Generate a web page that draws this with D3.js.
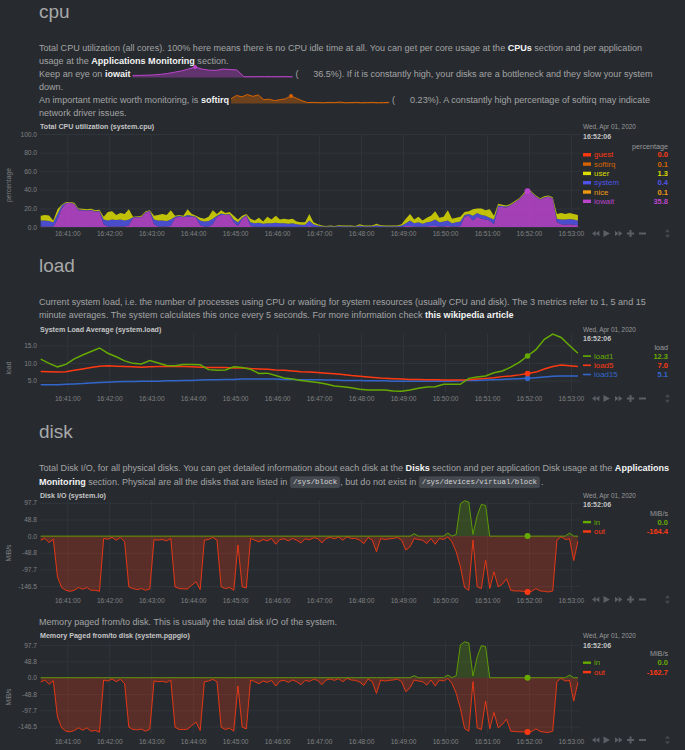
<!DOCTYPE html>
<html>
<head>
<meta charset="utf-8">
<script src="https://cdn.jsdelivr.net/npm/d3@7"></script>
<style>
  html, body { margin: 0; padding: 0; background: #272b30; }
  svg { display: block; font-family: "Liberation Sans", Arial, Helvetica, sans-serif; }
  text { white-space: pre; }
</style>
</head>
<body>
<div id="dash"></div>
<script>
// ---- data ----
// cpu: one sample every 6 s starting 16:40:22
const cpuIowait = [0.5,0.5,0.5,0.5,8,20,25.5,26,24.5,18,
  18,17.5,18,16.5,17,3,0.5,0.5,0.5,0.5,
  0.5,2,10,10.5,10.5,15.5,17,3,0.5,0.5,
  0.5,1,10,11,10.5,11,11,10.5,2,0.5,
  0.5,3,11,13,13,13.5,5,1,9,12.5,
  1,0.3,0.3,0.3,0.3,0.3,0.3,0.3,0.3,0.3,
  0.3,0.3,0.3,0.3,1,0.3,0.2,0.2,0.1,0.1,
  0.1,0.2,0.1,0.1,0.1,0.1,0.2,0.1,0.1,0.1,
  0.2,0.1,0.1,0.1,0.1,0.1,0.2,1,1,0.5,
  0.5,0.3,0.5,1,1,0.5,0.5,1,0.5,0.5,
  1,11,12,7,11,9,8,7,3,21.5,
  21.5,21,23.5,26.5,29.5,34.5,38.5,36.5,32.5,29.5,
  31.5,32.5,30.5,5,3,2.5,3,2.5,2];
const cpuSystem = [6.5,6.5,6,4.5,6,3,0.5,0.3,0.5,1,
  0.5,0.5,0.5,0.5,0.5,5,6.5,7.5,7,7.5,
  6.5,6,0.5,0.5,0.5,0.5,0.5,5,6.5,6.5,
  6,7,1,1,0.5,2,1,0.5,5,5.5,
  6,6,1,1.5,0.5,0.5,3,4,1,0.5,
  4,3.7,4.2,3.2,3.7,3.7,4.2,3.7,3.7,3.2,
  3.7,2.7,2.2,2.2,6,2.7,1.3,0.6,0.4,0.7,
  0.4,0.8,0.7,0.7,0.6,0.4,1.3,0.7,0.6,0.7,
  1.8,0.9,0.7,0.6,0.7,0.7,1.3,3,6,3.5,
  4.5,3.2,4.5,5,7,4.5,5.5,6,3.5,4.5,
  5,2,2,5,4,4,4,3,5,1.5,
  1,1,0.5,0.5,0.5,0.5,0.5,0.5,0.5,0.5,
  0.5,0.5,0.5,4,5,5.5,5.5,5.5,5];
const cpuUser = [5,6,6,2,5,1,1,0.7,1,1,
  1,1,1,1,1,3,9,9,5.5,7,
  7,11,0.5,0.5,1,1,0.5,4,6,7,
  6.5,10,1,1,1,6,2,1,3,3,
  4.5,9,2,3.5,1.5,2,4,3,2,1,
  4,3,5.5,2.5,7,4,7.5,4,5,4.5,
  5,3,2.5,2.5,7,2,1.5,0.7,0.5,0.7,
  0.5,1,0.7,0.7,0.8,0.5,1.5,0.7,0.8,0.7,
  1.5,1,0.7,0.8,0.7,0.7,1.5,5,7,4,
  6,3.5,5,6,9,5,5,11,5,5,
  5,3,3,7,5,7,6,9,4,2,
  1.5,1,1,1,1,1,1.5,1,1,1,
  1,1,1,5,7,6,6.5,6,6];
const cpuDims = ['guest', 'softirq', 'user', 'system', 'nice', 'iowait'];
const cpuDimValues = ['0.0', '0.1', '1.3', '0.4', '0.1', '35.8'];
const cpuDimColors = ['#FE3912', '#D66300', '#DDDD00', '#5054e6', '#EE9911', '#BB44CC'];
const cpuYTicks = [0, 20, 40, 60, 80, 100];

// inline sparklines in the cpu description (relative 0-100)
const iowaitSpark = [20,20,22,25,30,38,50,62,80,100,80,70,68,80,76,72,8,7,8,8,7,8,8,7];
const softirqSpark = [50,85,70,95,75,90,40,45,30,40,50,80,55,30,10,12,10,8,12,10,15,8,10,12,8,10,12,8,10,12];

// load: one sample every 12 s starting 16:40:22
const load1 = [11.1,9.9,8.9,9.6,11.2,12.3,13.3,14.3,12.8,11.8,
  10.6,9.9,9.7,10.7,10.0,9.3,9.2,9.6,9.6,9.5,
  8.1,7.9,8.0,8.9,8.7,8.2,7.0,7.1,6.4,5.7,
  5.4,5.0,4.7,4.4,4.0,3.4,3.2,2.9,2.5,2.3,
  2.3,2.3,2.0,1.9,2.3,2.8,3.1,3.2,3.9,3.9,
  3.9,5.6,6.0,6.3,7.2,7.7,8.8,10.2,12.0,13.8,
  16.8,18.3,17.3,15.0,12.8];
const load5 = [7.6,7.5,7.4,7.5,7.9,8.3,8.7,9.1,9.2,9.1,
  9.0,8.9,8.8,8.9,9.0,9.0,9.0,9.0,8.9,8.8,
  8.7,8.7,8.7,8.6,8.6,8.4,8.3,8.2,8.0,7.9,
  7.7,7.5,7.4,7.3,7.1,6.9,6.7,6.4,6.2,6.0,
  5.8,5.6,5.5,5.4,5.3,5.3,5.2,5.2,5.1,5.1,
  5.1,5.2,5.4,5.6,5.8,6.1,6.3,6.6,7.0,7.4,
  8.3,9.0,9.4,9.2,9.0];
const load15 = [3.8,3.8,3.8,3.9,4.0,4.1,4.3,4.4,4.5,4.6,
  4.7,4.7,4.8,4.8,4.8,4.9,4.9,5.0,5.0,5.1,
  5.2,5.2,5.3,5.3,5.4,5.4,5.4,5.4,5.4,5.3,
  5.3,5.2,5.2,5.2,5.1,5.1,5.0,5.0,5.0,4.9,
  4.9,4.9,4.8,4.8,4.8,4.8,4.8,4.8,4.8,4.8,
  4.9,5.0,5.0,5.1,5.2,5.3,5.4,5.5,5.6,5.8,
  6.0,6.2,6.3,6.3,6.3];
const loadDims = ['load1', 'load5', 'load15'];
const loadDimValues = ['12.3', '7.0', '5.1'];
const loadDimColors = ['#66AA00', '#FE3912', '#3366CC'];
const loadYTicks = [5, 10, 15];

// disk io (MiB/s), 6 s samples
const diskIn = [0,0,0,0,0,0,0,0,0,0,
  0,0,0,0,0,0,0,0,0,0,
  0,0,0,0,0,0,0,0,0,0,
  0,0,0,0,0,0,0,0,0,0,
  0,0,0,0,0,0,0,0,0,0,
  0,0,0,0,0,0,0,0,0,0,
  0,0,0,0,0,0,0,0,0,0,
  0,0,0,0,0,0,0,0,0,0,
  0,0,0,0,0,0,0,0,0,7,
  0,0,0,0,0,0,0,9,0,5,
  95,104,100,5,60,93,90,0,0,0,
  0,0,0,0,0,0,0,0,0,0,
  0,0,0,0,0,0,9,0,0];
const diskOut = [-12,-7,-19,-9,-120,-151,-159,-162,-159,-151,
  -156,-151,-159,-159,-162,-7,-9,-4,-12,-4,
  -17,-149,-154,-157,-154,-159,-155,-10,-12,-10,
  -14,-7,-149,-154,-155,-155,-144,-134,-157,-12,
  -10,-4,-12,-149,-154,-151,-159,-26,-149,-152,
  -7,-12,-17,-10,-14,-7,-24,-10,-8,-14,
  -7,-12,-20,-8,-11,-5,-7,-20,-7,-4,
  -8,-3,-12,-2,-7,-7,-12,-22,-4,-12,
  -46,-7,-10,-8,-7,-4,-12,-41,-31,-7,
  -10,-12,-22,-7,-24,-7,-10,-2,-17,-46,
  -90,-151,-159,-12,-149,-154,-71,-154,-105,-149,
  -141,-125,-159,-161,-161,-162,-164.4,-162,-154,-161,
  -162,-164,-161,-12,-2,-10,-8,-72,-15];
const diskDimValues = ['0.0', '-164.4'];

// memory paged from/to disk (MiB/s), 6 s samples
const pgpgIn = [0,0,0,0,0,0,0,0,0,0,
  0,0,0,0,0,0,0,0,0,0,
  0,0,0,0,0,0,0,0,0,0,
  0,0,0,0,0,0,0,0,0,0,
  0,0,0,0,0,0,0,0,0,0,
  0,0,0,0,0,0,0,0,0,0,
  0,0,0,0,0,0,0,0,0,0,
  0,0,0,0,0,0,0,0,0,0,
  0,0,0,0,0,0,0,0,0,6,
  0,0,0,0,0,0,0,8,0,6,
  98,107,104,5,62,96,93,0,0,0,
  0,0,0,0,0,0,0,0,0,0,
  0,0,0,0,0,0,8,0,0];
const pgpgOut = [-13,-7,-20,-9,-118,-150,-160,-162,-158,-150,
  -157,-150,-160,-158,-163,-7,-10,-4,-12,-5,
  -18,-148,-155,-156,-154,-160,-154,-10,-12,-11,
  -14,-7,-148,-155,-155,-154,-143,-133,-158,-12,
  -10,-5,-12,-148,-155,-151,-160,-25,-148,-153,
  -7,-12,-18,-10,-14,-8,-25,-10,-8,-14,
  -7,-12,-21,-8,-11,-5,-8,-21,-7,-4,
  -8,-3,-12,-2,-7,-8,-13,-23,-4,-12,
  -47,-7,-10,-8,-7,-4,-12,-42,-30,-7,
  -10,-12,-22,-7,-25,-7,-10,-2,-17,-47,
  -92,-152,-160,-12,-150,-155,-70,-153,-104,-150,
  -140,-124,-160,-161,-162,-162,-162.7,-161,-153,-161,
  -163,-164,-160,-12,-2,-10,-8,-70,-14];
const pgpgDimValues = ['0.0', '-162.7'];
const ioDims = ['in', 'out'];
const ioDimColors = ['#66AA00', '#FE3912'];
const ioYTicks = [-146.5, -97.7, -48.8, 0, 48.8, 97.7];

// ---- page ----
const W = 685, H = 750;
const TEXT = '#a3a3a3', STRONG = '#f2f2f2', TICK = '#808080', GRID = '#30353b';
const MONO = '"Liberation Mono", "DejaVu Sans Mono", monospace';
const PARA_SIZE = 9.05;

const svg = d3.select('#dash').append('svg').attr('width', W).attr('height', H);
svg.append('rect').attr('width', W).attr('height', H).attr('fill', '#272b30');

const cpuStart = new Date(2020, 3, 1, 16, 40, 22);
const cpuTimes = cpuIowait.map((d, i) => d3.timeSecond.offset(cpuStart, i * 6));
const loadTimes = load1.map((d, i) => d3.timeSecond.offset(cpuStart, i * 12));
const cursorIdx = 116;
const loadCursorIdx = 58;

let x = d3.scaleTime()
  .domain([new Date(2020, 3, 1, 16, 40, 21), new Date(2020, 3, 1, 16, 53, 13)])
  .range([40, 580]);
let minuteTicks = d3.timeMinute.range(new Date(2020, 3, 1, 16, 41), new Date(2020, 3, 1, 16, 53, 1));

function heading(label, y) {
  svg.append('text').attr('x', 39).attr('y', y).text(label)
    .attr('font-size', 19).attr('fill', '#a8a8a8');
}

// paragraph line; returns the x where the text ends
function para(y, parts, x0) {
  x0 = x0 || 39;
  let t = svg.append('text').attr('x', x0).attr('y', y)
    .attr('font-size', PARA_SIZE).attr('fill', TEXT);
  parts.forEach((p) => {
    let s = t.append('tspan').text(typeof p === 'string' ? p : p.b);
    if (typeof p !== 'string') s.attr('fill', STRONG).attr('font-weight', 'bold');
  });
  return x0 + t.node().getComputedTextLength();
}

// inline code box; returns the x where the box ends
function codeSpan(label, x0, y) {
  let bx = svg.append('rect').attr('x', x0).attr('y', y - 7.6).attr('height', 11)
    .attr('rx', 2).attr('fill', '#44494f').attr('stroke', '#50555b').attr('stroke-width', 0.5);
  let t = svg.append('text').attr('x', x0 + 2.5).attr('y', y).text(label)
    .attr('font-family', MONO).attr('font-size', 7.4).attr('fill', '#d6d6d6');
  let w = t.node().getComputedTextLength() + 5;
  bx.attr('width', w);
  return x0 + w;
}

function sparkline(vals, x0, x1, yTop, yBot, color, dotIdx) {
  let sx = d3.scaleLinear().domain([0, vals.length - 1]).range([x0, x1]);
  let sy = d3.scaleLinear().domain([0, 100]).range([yBot, yTop]);
  svg.append('path').datum(vals)
    .attr('d', d3.area().x((d, i) => sx(i)).y0(yBot).y1((d) => sy(d)))
    .attr('fill', color).attr('fill-opacity', 0.4);
  svg.append('path').datum(vals)
    .attr('d', d3.line().x((d, i) => sx(i)).y((d) => sy(d)))
    .attr('fill', 'none').attr('stroke', color).attr('stroke-width', 1);
  svg.append('circle').attr('cx', sx(dotIdx)).attr('cy', sy(vals[dotIdx])).attr('r', 2).attr('fill', color);
}

function styleAxis(a) {
  a.select('.domain').remove();
  a.selectAll('line').attr('stroke', GRID).attr('stroke-width', 1);
  a.selectAll('text').attr('fill', TICK).attr('font-size', 6.6)
    .attr('font-family', '"Liberation Sans", Arial, sans-serif');
}

// plot frame: grid, tick labels, title, unit label
function frame(c) {
  let y = d3.scaleLinear().domain(c.yDomain).range([c.bottom, c.top]);
  svg.append('g').attr('transform', 'translate(40,0)')
    .call(d3.axisLeft(y).tickValues(c.yTicks).tickFormat((d) => d.toFixed(1)).tickSize(-540).tickPadding(3))
    .call(styleAxis);
  svg.append('g').attr('transform', `translate(0,${c.bottom})`)
    .call(d3.axisBottom(x).tickValues(minuteTicks).tickFormat(d3.timeFormat('%H:%M:%S'))
      .tickSize(-(c.bottom - c.top)).tickPadding(c.pad || 4.6))
    .call(styleAxis);
  svg.append('text').attr('x', 40).attr('y', c.titleY).text(c.title)
    .attr('font-size', 7.1).attr('font-weight', 'bold').attr('fill', '#c4c4c4');
  svg.append('text').attr('transform', `translate(10.5,${c.labelY}) rotate(-90)`)
    .attr('text-anchor', 'middle').text(c.unit).attr('font-size', 6.8).attr('fill', TICK);
  navIcons(c.bottom + 6.5);
  return y;
}

function legend(c) {
  svg.append('text').attr('x', 583).attr('y', c.dateY).text('Wed, Apr 01, 2020')
    .attr('font-size', 6.4).attr('fill', '#9a9a9a');
  svg.append('text').attr('x', 583).attr('y', c.dateY + 9.5).text('16:52:06')
    .attr('font-size', 7).attr('font-weight', 'bold').attr('fill', '#c4c4c4');
  svg.append('text').attr('x', 668).attr('y', c.unitY).attr('text-anchor', 'end').text(c.unit)
    .attr('font-size', 7.2).attr('fill', '#9a9a9a');
  c.names.forEach((name, i) => {
    let yy = c.itemY + i * c.step;
    svg.append('rect').attr('x', 583).attr('y', yy - 2.6 - c.sw / 2).attr('width', 8).attr('height', c.sw)
      .attr('fill', c.colors[i]);
    svg.append('text').attr('x', 594).attr('y', yy).text(name)
      .attr('font-size', 7.9).attr('fill', c.colors[i]);
    svg.append('text').attr('x', 668).attr('y', yy).attr('text-anchor', 'end').text(c.values[i])
      .attr('font-size', 7.5).attr('font-weight', 'bold').attr('fill', c.colors[i]);
  });
}

function navIcons(cy) {
  let g = svg.append('g').attr('fill', '#5b6067');
  let tri = (pts) => g.append('polygon').attr('points', pts.map((p) => p.join(',')).join(' '));
  tri([[592, cy], [595.7, cy - 2.8], [595.7, cy + 2.8]]);
  tri([[595.7, cy], [599.4, cy - 2.8], [599.4, cy + 2.8]]);
  tri([[603.5, cy - 3.6], [603.5, cy + 3.6], [610, cy]]);
  tri([[615, cy - 2.8], [615, cy + 2.8], [618.7, cy]]);
  tri([[618.7, cy - 2.8], [618.7, cy + 2.8], [622.4, cy]]);
  g.append('rect').attr('x', 627).attr('y', cy - 1).attr('width', 7).attr('height', 2);
  g.append('rect').attr('x', 629.5).attr('y', cy - 3.5).attr('width', 2).attr('height', 7);
  g.append('rect').attr('x', 639).attr('y', cy - 1).attr('width', 7).attr('height', 2);
  let r = svg.append('g').attr('fill', '#45494f');
  r.append('polygon').attr('points', `665,${cy - 1.2} 670,${cy - 1.2} 667.5,${cy - 4.6}`);
  r.append('polygon').attr('points', `665,${cy + 1.2} 670,${cy + 1.2} 667.5,${cy + 4.6}`);
}

// ---------- cpu section ----------
heading('cpu', 18.3);
para(50.6, ['Total CPU utilization (all cores). 100% here means there is no CPU idle time at all. You can get per core usage at the ', { b: 'CPUs' }, ' section and per application']);
para(63.8, ['usage at the ', { b: 'Applications Monitoring' }, ' section.']);
let e1 = para(77, ['Keep an eye on ', { b: 'iowait' }]) + 2;
sparkline(iowaitSpark, e1, e1 + 160, 67, 77.5, '#BB44CC', 9);
para(77, ['('], e1 + 163);
para(77, ['36.5%). If it is constantly high, your disks are a bottleneck and they slow your system'], e1 + 180.6);
para(90.2, ['down.']);
let e2 = para(103.4, ['An important metric worth monitoring, is ', { b: 'softirq' }]) + 2;
sparkline(softirqSpark, e2, e2 + 158, 94, 103.5, '#D66300', 11);
para(103.4, ['('], e2 + 161);
para(103.4, ['0.23%). A constantly high percentage of softirq may indicate'], e2 + 179);
para(116.4, ['network driver issues.']);

let yCpu = frame({ top: 134, bottom: 227, yDomain: [0, 100], yTicks: cpuYTicks, title: 'Total CPU utilization (system.cpu)', titleY: 129.2, unit: 'percentage', labelY: 185, pad: 4.3 });

let cpuRows = cpuTimes.map((t, i) => ({ t: t, iowait: cpuIowait[i], system: cpuSystem[i], user: cpuUser[i] }));
let cpuColor = { iowait: '#BB44CC', system: '#5054e6', user: '#DDDD00' };
let cpuStack = d3.stack().keys(['iowait', 'system', 'user'])(cpuRows);
let cpuArea = d3.area().x((d) => x(d.data.t)).y0((d) => yCpu(d[0])).y1((d) => yCpu(d[1]));
svg.append('g').selectAll('path').data(cpuStack).enter().append('path')
  .attr('d', cpuArea).attr('fill', (s) => cpuColor[s.key]).attr('fill-opacity', 0.85);
svg.append('circle').attr('cx', x(cpuTimes[cursorIdx])).attr('cy', yCpu(cpuIowait[cursorIdx]))
  .attr('r', 3).attr('fill', '#BB44CC');

legend({ dateY: 129.3, unitY: 148.5, unit: 'percentage', itemY: 157.4, step: 9.3, sw: 3.4,
  names: cpuDims, values: cpuDimValues, colors: cpuDimColors });

// ---------- load section ----------
heading('load', 272);
para(305, ['Current system load, i.e. the number of processes using CPU or waiting for system resources (usually CPU and disk). The 3 metrics refer to 1, 5 and 15']);
para(318, ['minute averages. The system calculates this once every 5 seconds. For more information check ', { b: 'this wikipedia article' }]);

let yLoad = frame({ top: 334, bottom: 392, yDomain: [1.7, 18.3], yTicks: loadYTicks, title: 'System Load Average (system.load)', titleY: 331.5, unit: 'load', labelY: 368, pad: 4.6 });

let loadSeries = [load15, load5, load1];
let loadSeriesColors = ['#3366CC', '#FE3912', '#66AA00'];
let loadLine = d3.line().x((d, i) => x(loadTimes[i])).y((d) => yLoad(d));
svg.append('g').selectAll('path').data(loadSeries).enter().append('path')
  .attr('d', loadLine).attr('fill', 'none').attr('stroke-width', 1.5)
  .attr('stroke', (d, i) => loadSeriesColors[i]);
svg.append('g').selectAll('circle').data(loadSeries).enter().append('circle')
  .attr('cx', x(loadTimes[loadCursorIdx])).attr('cy', (d) => yLoad(d[loadCursorIdx]))
  .attr('r', 2.8).attr('fill', (d, i) => loadSeriesColors[i]);

legend({ dateY: 331.5, unitY: 349.5, unit: 'load', itemY: 358.7, step: 9.2, sw: 1.6,
  names: loadDims, values: loadDimValues, colors: loadDimColors });

// ---------- disk section ----------
heading('disk', 437.5);
para(471, ['Total Disk I/O, for all physical disks. You can get detailed information about each disk at the ', { b: 'Disks' }, ' section and per application Disk usage at the ', { b: 'Applications' }]);
let e3 = para(484.5, [{ b: 'Monitoring' }, ' section. Physical are all the disks that are listed in']) + 3;
let e4 = codeSpan('/sys/block', e3, 484.3);
let e5 = para(484.5, [', but do not exist in'], e4 + 0.5) + 3;
let e6 = codeSpan('/sys/devices/virtual/block', e5, 484.3);
para(484.5, ['.'], e6 + 1.5);

function ioChart(c, inVals, outVals) {
  let y = frame(c);
  let sets = [[outVals, '#FE3912'], [inVals, '#66AA00']];
  sets.forEach(([vals, color]) => {
    svg.append('path').datum(vals)
      .attr('d', d3.area().x((d, i) => x(cpuTimes[i])).y0(y(0)).y1((d) => y(d)))
      .attr('fill', color).attr('fill-opacity', 0.24);
  });
  sets.forEach(([vals, color]) => {
    svg.append('path').datum(vals)
      .attr('d', d3.line().x((d, i) => x(cpuTimes[i])).y((d) => y(d)))
      .attr('fill', 'none').attr('stroke', color).attr('stroke-width', 1).attr('stroke-opacity', 0.85);
  });
  svg.append('circle').attr('cx', x(cpuTimes[cursorIdx])).attr('cy', y(inVals[cursorIdx])).attr('r', 3).attr('fill', '#66AA00');
  svg.append('circle').attr('cx', x(cpuTimes[cursorIdx])).attr('cy', y(outVals[cursorIdx])).attr('r', 3).attr('fill', '#FE3912');
}

ioChart({ top: 500, bottom: 593, yDomain: [-167, 106], yTicks: ioYTicks, title: 'Disk I/O (system.io)', titleY: 497.5, unit: 'MiB/s', labelY: 553, pad: 4.9 }, diskIn, diskOut);
legend({ dateY: 497.5, unitY: 515.5, unit: 'MiB/s', itemY: 524.7, step: 9.4, sw: 2.4,
  names: ioDims, values: diskDimValues, colors: ioDimColors });

para(625, ['Memory paged from/to disk. This is usually the total disk I/O of the system.']);
ioChart({ top: 641.6, bottom: 733.5, yDomain: [-167, 108], yTicks: ioYTicks, title: 'Memory Paged from/to disk (system.pgpgio)', titleY: 638.3, unit: 'MiB/s', labelY: 697, pad: 5.5 }, pgpgIn, pgpgOut);
legend({ dateY: 638.3, unitY: 655.7, unit: 'MiB/s', itemY: 665.3, step: 9.4, sw: 2.4,
  names: ioDims, values: pgpgDimValues, colors: ioDimColors });
</script>
</body>
</html>
